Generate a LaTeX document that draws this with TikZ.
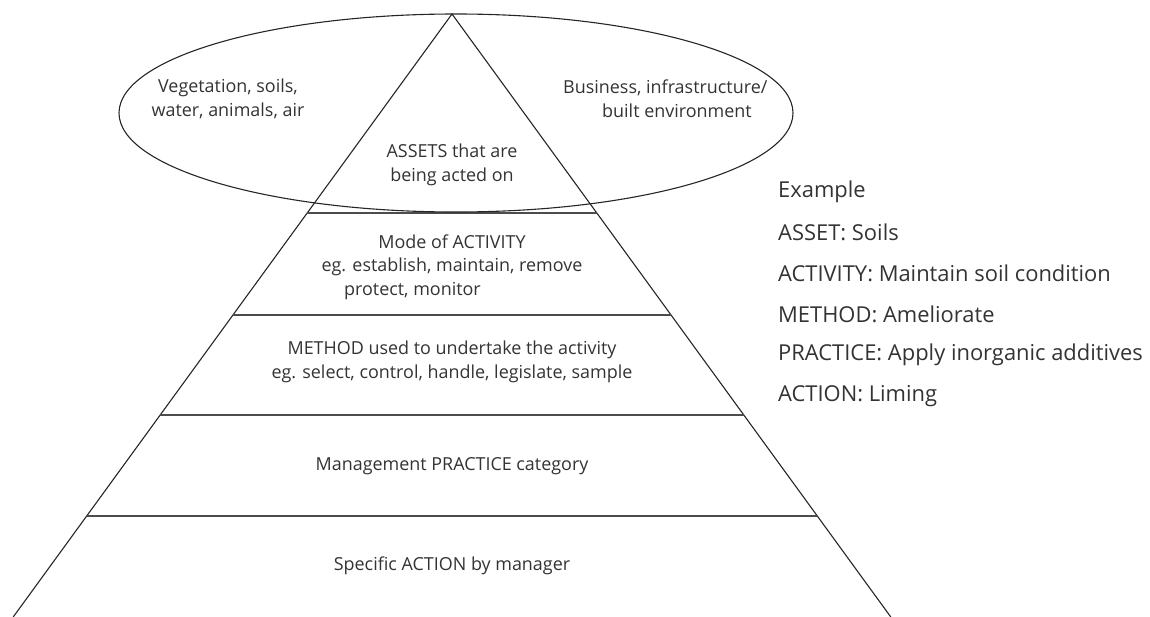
\documentclass[tikz,border=0pt]{standalone}
\usepackage{fontspec}
\setmainfont{Open Sans}
\begin{document}
\begin{tikzpicture}[x=1bp,y=-1bp,
  edge/.style={draw=black!85, line width=1.1bp},
  tier/.style={draw=black!70, line width=1.4bp},
  lbl/.style={font=\fontsize{18}{23.5}\selectfont, text=black!80, align=center, inner sep=0},
  ex/.style={font=\fontsize{22}{26}\selectfont, text=black!80, anchor=west, inner sep=0}]
\useasboundingbox (0,0) rectangle (1150,617);

% pyramid outline
\coordinate (apex) at (452,14);
\coordinate (bl) at (13.2,617);
\coordinate (br) at (890.8,617);
\draw[edge] (bl) -- (apex) -- (br);

% tier boundaries
\coordinate (l1) at (307.2,213); \coordinate (r1) at (596.8,213);
\coordinate (l2) at (233.0,315); \coordinate (r2) at (671.0,315);
\coordinate (l3) at (160.2,415); \coordinate (r3) at (743.8,415);
\coordinate (l4) at (86.7,516);  \coordinate (r4) at (817.3,516);
\draw[tier] (l1) -- (r1);
\draw[tier] (l2) -- (r2);
\draw[tier] (l3) -- (r3);
\draw[tier] (l4) -- (r4);

% asset ellipse
\draw[edge] (456,113) ellipse [x radius=337, y radius=99];

% labels
\node[lbl] (veg) at (228,99) {Vegetation, soils,\\water, animals, air};
\node[lbl, anchor=west] (bus1) at (563,88) {Business, infrastructure/};
\node[lbl, anchor=west] (bus2) at (602,111) {built environment};
\node[lbl] (assets) at (452,165) {ASSETS that are\\being acted on};
\node[lbl] (activity) at (452,255) {Mode of ACTIVITY\\eg. establish, maintain, remove};
\node[lbl, anchor=west] (activity2) at (344,291) {protect, monitor};
\node[lbl] (method) at (452,362) {METHOD used to undertake the activity\\eg. select, control, handle, legislate, sample};
\node[lbl] (practice) at (452,466) {Management PRACTICE category};
\node[lbl] (action) at (452,566) {Specific ACTION by manager};

% worked example
\node[ex] (exh) at (778,192) {Example};
\node[ex] (e1) at (778,232) {ASSET: Soils};
\node[ex] (e2) at (778,273) {ACTIVITY: Maintain soil condition};
\node[ex] (e3) at (778,314) {METHOD: Ameliorate};
\node[ex] (e4) at (778,355) {PRACTICE: Apply inorganic additives};
\node[ex] (e5) at (778,396) {ACTION: Liming};
\end{tikzpicture}
\end{document}
